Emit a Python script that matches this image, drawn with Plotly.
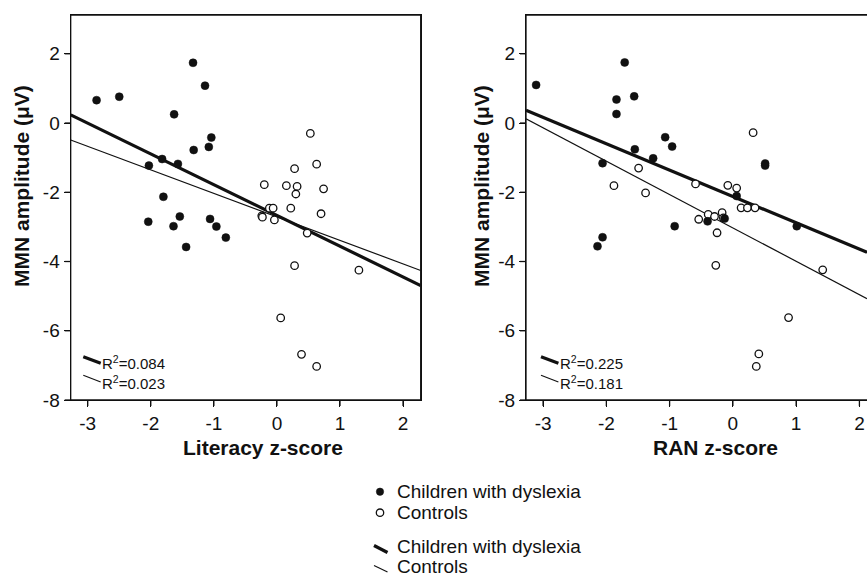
import plotly.graph_objects as go

W, H = 867, 577

# ---------------- data ----------------
lit_dys_x = [-2.86, -2.50, -1.33, -1.14, -1.63, -1.04, -1.08, -1.32, -2.03, -1.82,
             -1.57, -1.80, -2.04, -1.54, -1.64, -1.06, -0.96, -0.81, -1.44]
lit_dys_y = [0.66, 0.76, 1.74, 1.08, 0.25, -0.42, -0.69, -0.78, -1.23, -1.04,
             -1.18, -2.13, -2.85, -2.70, -2.98, -2.77, -2.99, -3.31, -3.58]
lit_con_x = [0.53, 0.63, 0.28, -0.20, 0.15, 0.32, 0.30, 0.74, 0.22, -0.12, -0.06,
             -0.24, -0.23, -0.04, 0.70, 0.48, 0.28, 1.30, 0.06, 0.39, 0.63]
lit_con_y = [-0.30, -1.19, -1.32, -1.78, -1.81, -1.83, -2.05, -1.90, -2.46, -2.46, -2.46,
             -2.68, -2.72, -2.80, -2.62, -3.18, -4.12, -4.25, -5.63, -6.68, -7.03]

ran_dys_x = [-3.11, -1.71, -1.84, -1.56, -1.84, -1.07, -0.96, -1.55, -1.26, -2.06,
             0.51, 0.51, 0.06, -0.13, -0.40, -0.92, 1.01, -2.06, -2.14]
ran_dys_y = [1.10, 1.75, 0.68, 0.77, 0.26, -0.41, -0.68, -0.76, -1.02, -1.16,
             -1.17, -1.23, -2.11, -2.76, -2.84, -2.98, -2.98, -3.30, -3.56]
ran_con_x = [0.32, -1.49, -1.88, -1.38, -0.59, -0.08, 0.06, 0.13, 0.23, 0.35, -0.54,
             -0.39, -0.29, -0.17, -0.25, -0.27, 1.42, 0.88, 0.41, 0.37, -0.15]
ran_con_y = [-0.28, -1.30, -1.81, -2.02, -1.76, -1.80, -1.88, -2.45, -2.45, -2.45, -2.78,
             -2.64, -2.70, -2.59, -3.17, -4.11, -4.24, -5.62, -6.67, -7.03, -2.74]

# regression lines (slope, intercept)
lit_fit = {"dys": (-0.888, -2.67), "con": (-0.679, -2.71)}
ran_fit = {"dys": (-0.762, -2.12), "con": (-0.963, -3.03)}
lit_r2 = ["0.084", "0.023"]
ran_r2 = ["0.225", "0.181"]

x_ticks = [-3, -2, -1, 0, 1, 2]
x_tick_text = ["-3", "-2", "-1", "0", "1", "2"]
y_ticks = [-8, -6, -4, -2, 0, 2]
y_tick_text = ["-8", "-6", "-4", "-2", "0", "2"]

x_titles = ["Literacy z-score", "RAN z-score"]
y_title = "MMN amplitude (μV)"
group_names = ["Children with dyslexia", "Controls"]

# ---------------- layout helpers ----------------
FONT = "Liberation Sans, Arial, sans-serif"
INK = "#111111"
LW = 1.3
TICKLEN = 6


def PX(x):
    return x / W


def PY(y):
    return 1 - y / H


x1_range = [-3.27, 2.28]
x2_range = [-3.27, 2.12]
y_range = [-8, 3.12]

fig = go.Figure()


def add_panel(xs_d, ys_d, xs_c, ys_c, fit, xr, xa, ya):
    for key, width in (("dys", 3.2), ("con", 1.2)):
        m, b = fit[key]
        fig.add_trace(go.Scatter(
            x=[xr[0], xr[1]], y=[m * xr[0] + b, m * xr[1] + b],
            mode="lines", line=dict(color=INK, width=width),
            xaxis=xa, yaxis=ya, showlegend=False, hoverinfo="skip"))
    fig.add_trace(go.Scatter(
        x=xs_c, y=ys_c, mode="markers", xaxis=xa, yaxis=ya, showlegend=False,
        marker=dict(symbol="circle", size=7.5, color="white",
                    line=dict(color=INK, width=1.3))))
    fig.add_trace(go.Scatter(
        x=xs_d, y=ys_d, mode="markers", xaxis=xa, yaxis=ya, showlegend=False,
        marker=dict(symbol="circle", size=8, color=INK,
                    line=dict(color=INK, width=0.5))))


add_panel(lit_dys_x, lit_dys_y, lit_con_x, lit_con_y, lit_fit, x1_range, "x", "y")
add_panel(ran_dys_x, ran_dys_y, ran_con_x, ran_con_y, ran_fit, x2_range, "x2", "y2")

axis_common = dict(
    showline=True, linecolor=INK, linewidth=LW,
    ticks="outside", ticklen=TICKLEN, tickwidth=LW, tickcolor=INK,
    showgrid=False, zeroline=False, automargin=False,
    tickfont=dict(family=FONT, size=19, color=INK),
)

x1_dom = [PX(70.7), PX(420.7)]
x2_dom = [PX(526), 1.0]
ydom = [PY(400), PY(15)]

fig.update_layout(
    template="none",
    width=W, height=H,
    margin=dict(l=0, r=0, t=0, b=0, pad=0, autoexpand=False),
    paper_bgcolor="white", plot_bgcolor="white",
    showlegend=False,
    xaxis=dict(domain=x1_dom, range=x1_range, anchor="y",
               tickmode="array", tickvals=x_ticks, ticktext=x_tick_text,
               mirror=True, **axis_common),
    yaxis=dict(domain=ydom, range=y_range, anchor="x",
               tickmode="array", tickvals=y_ticks, ticktext=y_tick_text,
               mirror=True, **axis_common),
    xaxis2=dict(domain=x2_dom, range=x2_range, anchor="y2",
                tickmode="array", tickvals=x_ticks, ticktext=x_tick_text,
                mirror=True, **axis_common),
    yaxis2=dict(domain=ydom, range=y_range, anchor="x2",
                tickmode="array", tickvals=y_ticks, ticktext=y_tick_text,
                mirror=False, **axis_common),
)

annotations = []
shapes = []

# frame and tick marks drawn explicitly (in axis-domain coordinates)
dom_h = (ydom[1] - ydom[0]) * H
for xa, ya, xdom, right_side in (("x", "y", x1_dom, True), ("x2", "y2", x2_dom, False)):
    dom_w = (xdom[1] - xdom[0]) * W
    sides = [(0, 0, 1, 0), (0, 1, 1, 1), (0, 0, 0, 1)]
    if right_side:
        sides.append((1, 0, 1, 1))
    for x0, y0, x1, y1 in sides:
        shapes.append(dict(type="line", xref=xa + " domain", yref=ya + " domain",
                           x0=x0, y0=y0, x1=x1, y1=y1,
                           line=dict(color=INK, width=LW)))
    for tv in x_ticks:
        shapes.append(dict(type="line", xref=xa, yref=ya + " domain",
                           x0=tv, x1=tv, y0=0, y1=-TICKLEN / dom_h,
                           line=dict(color=INK, width=LW)))
    for tv in y_ticks:
        shapes.append(dict(type="line", xref=xa + " domain", yref=ya,
                           x0=0, x1=-TICKLEN / dom_w, y0=tv, y1=tv,
                           line=dict(color=INK, width=LW)))

# axis titles
for cx, t in zip([263, 715], x_titles):
    annotations.append(dict(x=PX(cx), y=PY(447), xref="paper", yref="paper",
                            text="<b>%s</b>" % t, showarrow=False,
                            xanchor="center", yanchor="middle",
                            font=dict(family=FONT, size=21, color=INK)))
for cx in [22, 482]:
    annotations.append(dict(x=PX(cx), y=PY(186), xref="paper", yref="paper",
                            text="<b>%s</b>" % y_title, showarrow=False,
                            textangle=-90, xanchor="center", yanchor="middle",
                            font=dict(family=FONT, size=21, color=INK)))

# in-panel R² keys
for x0, r2s in ((83.3, lit_r2), (541.0, ran_r2)):
    shapes.append(dict(type="line", xref="paper", yref="paper",
                       x0=PX(x0), y0=PY(356.7), x1=PX(x0 + 17.4), y1=PY(363.3),
                       line=dict(color=INK, width=3.2)))
    shapes.append(dict(type="line", xref="paper", yref="paper",
                       x0=PX(x0), y0=PY(375.3), x1=PX(x0 + 17.4), y1=PY(382),
                       line=dict(color=INK, width=1.2)))
    for yy, r in zip([362, 382], r2s):
        annotations.append(dict(x=PX(x0 + 18), y=PY(yy), xref="paper", yref="paper",
                                text="R<sup>2</sup>=%s" % r, showarrow=False,
                                xanchor="left", yanchor="middle", borderpad=0,
                                font=dict(family=FONT, size=15, color=INK)))

# bottom legend
r = 3.7
shapes.append(dict(type="circle", xref="paper", yref="paper",
                   x0=PX(380 - r), x1=PX(380 + r), y0=PY(491.7 + r), y1=PY(491.7 - r),
                   fillcolor=INK, line=dict(color=INK, width=0.5)))
shapes.append(dict(type="circle", xref="paper", yref="paper",
                   x0=PX(380 - r), x1=PX(380 + r), y0=PY(512.7 + r), y1=PY(512.7 - r),
                   fillcolor="white", line=dict(color=INK, width=1.3)))
shapes.append(dict(type="line", xref="paper", yref="paper",
                   x0=PX(374), y0=PY(545.5), x1=PX(387.5), y1=PY(552.5),
                   line=dict(color=INK, width=3.2)))
shapes.append(dict(type="line", xref="paper", yref="paper",
                   x0=PX(374), y0=PY(565.5), x1=PX(387.5), y1=PY(572),
                   line=dict(color=INK, width=1.2)))
for yy, t in zip([491.0, 512.4, 546.4, 566.6], group_names + group_names):
    annotations.append(dict(x=PX(396), y=PY(yy), xref="paper", yref="paper",
                            text=t, showarrow=False, xanchor="left", yanchor="middle",
                            borderpad=0,
                            font=dict(family=FONT, size=19, color=INK)))

fig.update_layout(annotations=annotations, shapes=shapes)

fig.write_html(
    "out.html",
    config={"displayModeBar": False},
    post_script="document.body.style.margin='0px';document.body.style.padding='0px';"
                "document.body.style.overflow='hidden';",
)
